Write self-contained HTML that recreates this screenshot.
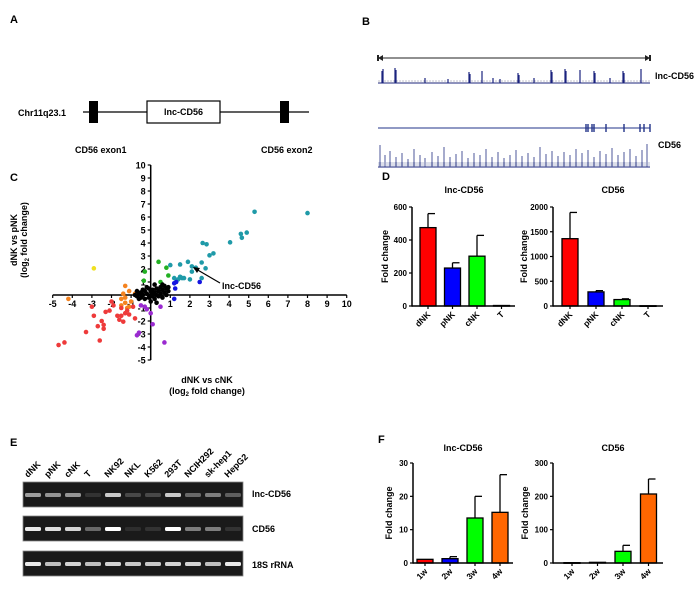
<!DOCTYPE html>
<html><head><meta charset="utf-8"><style>
html,body{margin:0;padding:0;background:#fff}
svg{display:block;font-family:"Liberation Sans",Arial,sans-serif}
text{font-weight:bold}
</style></head><body>
<svg id="fig" width="700" height="590" viewBox="0 0 700 590" xmlns="http://www.w3.org/2000/svg">
<g>
<text x="10" y="23" font-size="11">A</text>
<text x="18" y="116" font-size="9">Chr11q23.1</text>
<line x1="83" y1="112" x2="309" y2="112" stroke="#000" stroke-width="1.3"/>
<rect x="89" y="101" width="9" height="22" fill="#000"/>
<rect x="147" y="101" width="73" height="22" fill="#fff" stroke="#000" stroke-width="1.2"/>
<text x="183.5" y="115" font-size="9" text-anchor="middle" font-weight="normal">lnc-CD56</text>
<rect x="280" y="101" width="9" height="22" fill="#000"/>
<text x="75" y="153" font-size="9">CD56 exon1</text>
<text x="261" y="153" font-size="9">CD56 exon2</text>
</g>
<g id="panelB">
<text x="362" y="25" font-size="11">B</text>
<line x1="380" y1="58" x2="648" y2="58" stroke="#222" stroke-width="1"/>
<path d="M378 58 L383 55 L383 61Z M650 58 L645 55 L645 61Z" fill="#222"/>
<rect x="377" y="55" width="2" height="6" fill="#222"/><rect x="649" y="55" width="2" height="6" fill="#222"/>
<line x1="378" y1="128" x2="650" y2="128" stroke="#223388" stroke-width="1"/>
<text x="655" y="79" font-size="9">lnc-CD56</text>
<text x="658" y="148" font-size="9">CD56</text>
</g>
<g id="panelC">
<text x="10" y="181" font-size="11">C</text>
<text x="207" y="383" font-size="9" text-anchor="middle">dNK vs cNK</text>
<text x="207" y="394" font-size="9" text-anchor="middle">(log<tspan font-size="6" dy="2">2</tspan><tspan dy="-2"> fold change)</tspan></text>
<text transform="translate(17,240) rotate(-90)" font-size="9" text-anchor="middle">dNK vs pNK</text>
<text transform="translate(27,240) rotate(-90)" font-size="9" text-anchor="middle">(log<tspan font-size="6" dy="2">2</tspan><tspan dy="-2"> fold change)</tspan></text>
</g>
<g id="panelD">
<text x="382" y="180" font-size="11">D</text>
</g>
<g id="panelE">
<text x="10" y="446" font-size="11">E</text>
<text x="252" y="497" font-size="9">lnc-CD56</text>
<text x="252" y="532" font-size="9">CD56</text>
<text x="252" y="568" font-size="9">18S rRNA</text>
</g>
<g id="panelF">
<text x="378" y="443" font-size="11">F</text>
</g>
</svg>
<script>
const NS='http://www.w3.org/2000/svg';
function mk(parent,tag,attrs,txt){const e=document.createElementNS(NS,tag);for(const k in attrs)e.setAttribute(k,attrs[k]);if(txt!==undefined)e.textContent=txt;parent.appendChild(e);return e;}

const lncPeakPos=[382,383,395,396,425,448,469,470,482,493,500,518,519,534,551,552,565,566,580,594,595,610,623,624,641];
const lncPeakH=[12,14,15,13,5,4,11,9,12,5,4,10,8,5,13,11,14,12,13,12,10,5,12,10,14];
const cdPeakPos=[380,385,390,396,402,408,414,420,425,432,438,444,450,456,462,468,474,480,486,492,498,504,510,516,522,528,534,540,546,552,558,564,570,576,582,588,594,600,606,612,618,624,630,636,642,647];
const cdPeakH=[22,12,16,10,14,8,18,12,9,15,11,20,10,13,16,9,14,12,18,10,15,9,12,17,11,14,10,20,13,16,11,15,12,18,14,17,10,16,13,19,12,15,18,11,17,23];
const exonPos=[586,588,592,594,606,624,640,644,650];
(function(){
 const g=document.getElementById('panelB');
 const t1=mk(g,'g',{});
 
 
 mk(t1,'line',{x1:378,y1:83,x2:650,y2:83,stroke:'#1a237e','stroke-width':1});
 for(let x=379;x<650;x+=3) mk(t1,'line',{x1:x,y1:83,x2:x,y2:80,stroke:'#99a','stroke-width':0.6});
 lncPeakPos.forEach((x,i)=>mk(t1,'line',{x1:x,y1:83,x2:x,y2:83-lncPeakH[i],stroke:'#1a237e','stroke-width':1.2}));
 const t2=mk(g,'g',{});
 
 
 mk(t2,'line',{x1:378,y1:167,x2:650,y2:167,stroke:'#1a237e','stroke-width':1});
 for(let x=379;x<650;x+=2) mk(t2,'line',{x1:x,y1:167,x2:x,y2:162,stroke:'#8890b8','stroke-width':0.6});
 cdPeakPos.forEach((x,i)=>mk(t2,'line',{x1:x,y1:167,x2:x,y2:167-cdPeakH[i],stroke:'#3a4590','stroke-width':0.9}));
 exonPos.forEach(x=>mk(g,'rect',{x:x-0.7,y:124,width:1.4,height:8,fill:'#223388'}));
})();

const teal=[[8,6.3],[5.3,6.4],[4.9,4.8],[4.6,4.7],[4.65,4.4],[4.05,4.05],[2.65,4],[2.85,3.9],[3.2,3.2],[3.0,3.05],[1.9,2.55],[1.5,2.35],[2.6,2.5],[2.1,2.2],[2.3,2.1],[2.8,2.05],[2.1,1.8],[1.0,2.3],[2.0,1.2],[1.5,1.4],[1.6,1.3],[1.2,1.3],[1.4,1.2],[2.6,1.3],[1.7,1.3]];
const blue=[[2.5,1.0],[1.3,1.0],[1.2,0.9],[1.25,0.5],[1.2,-0.3]];
const green=[[0.4,2.55],[0.8,2.1],[-0.3,1.8],[0.9,1.5],[-0.35,1.1],[0.5,1.0]];
const yellow=[[-2.9,2.05]];
const orange=[[-4.2,-0.3],[-1.3,0.7],[-1.4,0.1],[-1.1,0.3],[-1.3,-0.2],[-1.5,-0.3],[-1.0,-0.5],[-1.3,-0.6],[-1.2,-1.0],[-0.8,0.1],[-1.5,-0.8],[-1.1,-0.9]];
const red=[[-4.7,-3.85],[-4.4,-3.65],[-3.3,-2.85],[-2.6,-3.5],[-2.4,-2.6],[-2.4,-2.3],[-2.7,-2.4],[-2.5,-2.0],[-2.9,-1.6],[-3.0,-0.9],[-2.3,-1.3],[-2.1,-1.2],[-1.7,-1.6],[-1.6,-1.9],[-1.4,-2.05],[-1.5,-1.6],[-1.3,-1.4],[-1.1,-1.5],[-1.5,-1.0],[-1.9,-0.8],[-0.8,-1.8],[-0.9,-0.9],[-2.0,-0.5],[-1.2,-1.2]];
const purple=[[0.7,-3.65],[-0.6,-2.9],[-0.7,-3.1],[0.1,-2.25],[0.0,-1.4],[-0.2,-1.1],[-0.3,-0.9],[0.5,-0.9],[-0.5,-0.8]];
const black=[[-0.8,0],[-0.7,-0.1],[-0.6,0.1],[-0.5,-0.2],[-0.5,0.2],[-0.4,0],[-0.3,-0.3],[-0.3,0.3],[-0.2,0.1],[-0.1,-0.2],[-0.1,0.5],[0,0],[0,0.3],[0.1,-0.1],[0.1,0.4],[0.2,0.2],[0.2,-0.3],[0.3,0],[0.3,0.5],[0.4,0.3],[0.4,-0.1],[0.5,0.1],[0.5,0.6],[0.6,0.4],[0.6,-0.2],[0.7,0.2],[0.7,0.7],[0.8,0.5],[0.8,0],[0.9,0.3],[-0.6,-0.3],[-0.2,0.6],[0.2,0.8],[0.0,-0.5],[0.3,-0.6],[-0.4,0.4],[0.6,0.8],[0.9,0.6],[-0.7,0.3],[0.15,0.15]];
const cXTicks=[-5,-4,-3,-2,-1,1,2,3,4,5,6,7,8,9,10];
const cYTicks=[-5,-4,-3,-2,-1,1,2,3,4,5,6,7,8,9,10];
(function(){
 const g=document.getElementById('panelC');
 const X=v=>150.7+v*19.6, Y=v=>295-v*13;
 const ax=mk(g,'g',{});
 
 
 mk(ax,'line',{x1:X(-5),y1:Y(0),x2:X(10),y2:Y(0),stroke:'#000','stroke-width':1.5});
 mk(ax,'line',{x1:X(0),y1:Y(-5),x2:X(0),y2:Y(10),stroke:'#000','stroke-width':1.5});
 cXTicks.forEach(v=>{mk(ax,'line',{x1:X(v),y1:Y(0),x2:X(v),y2:Y(0)+3,stroke:'#000','stroke-width':1.2});
  const t=mk(ax,'text',{x:X(v),y:Y(0)+12,'font-size':9,'text-anchor':'middle'},String(v));
  
  });
 cYTicks.forEach(v=>{mk(ax,'line',{x1:X(0)-3,y1:Y(v),x2:X(0),y2:Y(v),stroke:'#000','stroke-width':1.2});
  const t=mk(ax,'text',{x:X(0)-5,y:Y(v)+3.5,'font-size':9,'text-anchor':'end'},String(v));
  
  });
 const series=[[teal,'#1f9aa8','teal'],[blue,'#1515e0','blue'],[green,'#22b022','green'],[yellow,'#f0e020','yellow'],[orange,'#f5831f','orange'],[red,'#ee3a3a','red'],[purple,'#9a2ad0','purple'],[black,'#000','black']];
 series.forEach(([pts,col,nm])=>{pts.forEach(p=>{const c=mk(g,'circle',{cx:X(p[0]),cy:Y(p[1]),r:2.3,fill:col});
  
  });});
 mk(g,'line',{x1:220,y1:283,x2:196,y2:269,stroke:'#000','stroke-width':1.2});
 mk(g,'path',{d:'M193 267 L200 268 L197 273Z',fill:'#000'});
 const a=mk(g,'text',{x:222,y:289,'font-size':9},'lnc-CD56');
 
 
})();

function barChart(g,o){
 const Y=v=>o.y0-(v/o.ymax)*(o.y0-o.ytop);
 const t=mk(g,'text',{x:o.titleX,y:o.titleY,'font-size':9,'text-anchor':'middle'},o.title);
 
 
 const yl=mk(g,'text',{transform:`translate(${o.ylabX},${(o.y0+o.ytop)/2}) rotate(-90)`,'font-size':9,'text-anchor':'middle'},'Fold change');
 
 
 o.cats.forEach((c,i)=>{
  const cx=o.x0+o.first+i*o.step, v=o.vals[i], e=o.errs[i];
  if(e>v){mk(g,'line',{x1:cx,y1:Y(v),x2:cx,y2:Y(e),stroke:'#000','stroke-width':1.3});
   mk(g,'line',{x1:cx,y1:Y(e),x2:cx+7,y2:Y(e),stroke:'#000','stroke-width':1.3});}
  const b=mk(g,'rect',{x:cx-8,y:Y(v),width:16,height:Math.max(o.y0-Y(v),0.6),fill:o.colors[i],stroke:'#000','stroke-width':1.3});
  
  
  mk(g,'line',{x1:cx,y1:o.y0,x2:cx,y2:o.y0+3,stroke:'#000','stroke-width':1.2});
  const xl=mk(g,'text',{transform:`translate(${cx+3},${o.y0+9}) rotate(-45)`,'font-size':8.5,'text-anchor':'end'},c);
  
  
 });
 mk(g,'line',{x1:o.x0,y1:o.y0,x2:o.x1,y2:o.y0,stroke:'#000','stroke-width':1.5});
 mk(g,'line',{x1:o.x0,y1:o.y0+0.7,x2:o.x0,y2:o.ytop,stroke:'#000','stroke-width':1.5});
 o.ticks.forEach(v=>{mk(g,'line',{x1:o.x0-3,y1:Y(v),x2:o.x0,y2:Y(v),stroke:'#000','stroke-width':1.2});
  const tl=mk(g,'text',{x:o.x0-5,y:Y(v)+3,'font-size':8,'text-anchor':'end'},String(v));
  
  });
}
const dCats=['dNK','pNK','cNK','T'];
const dColors=['#ff0000','#0000ff','#00ff00','#ffffff'];
const dLncVals=[475,230,302,3];
const dLncErr=[560,262,428,3];
const dLncTicks=[0,200,400,600];
const dCdVals=[1360,285,130,5];
const dCdErr=[1890,310,145,5];
const dCdTicks=[0,500,1000,1500,2000];
const fCats=['1w','2w','3w','4w'];
const fColors=['#ff0000','#0000ff','#00ff00','#ff6600'];
const fLncVals=[1.1,1.3,13.5,15.2];
const fLncErr=[1.1,1.9,20,26.5];
const fLncTicks=[0,10,20,30];
const fCdVals=[1,2,35,207];
const fCdErr=[1,2,53,252];
const fCdTicks=[0,100,200,300];
(function(){
 const g=document.getElementById('panelD');
 const g1=mk(g,'g',{});  
 barChart(g1,{title:'lnc-CD56',titleX:464,titleY:193,ylabX:388,x0:412,x1:515,y0:306,ytop:207,ymax:600,first:16,step:24.5,cats:dCats,vals:dLncVals,errs:dLncErr,colors:dColors,ticks:dLncTicks});
 const g2=mk(g,'g',{});  
 barChart(g2,{title:'CD56',titleX:613,titleY:193,ylabX:527,x0:553,x1:663,y0:306,ytop:207,ymax:2000,first:17,step:26,cats:dCats,vals:dCdVals,errs:dCdErr,colors:dColors,ticks:dCdTicks});
 const f=document.getElementById('panelF');
 const f1=mk(f,'g',{});  
 barChart(f1,{title:'lnc-CD56',titleX:463,titleY:451,ylabX:392,x0:413,x1:513,y0:563,ytop:463,ymax:30,first:12,step:25,cats:fCats,vals:fLncVals,errs:fLncErr,colors:fColors,ticks:fLncTicks});
 const f2=mk(f,'g',{});  
 barChart(f2,{title:'CD56',titleX:613,titleY:451,ylabX:528,x0:553,x1:663,y0:563,ytop:463,ymax:300,first:19,step:25.5,cats:fCats,vals:fCdVals,errs:fCdErr,colors:fColors,ticks:fCdTicks});
})();

const lanes=['dNK','pNK','cNK','T','NK92','NKL','K562','293T','NCIH292','sk-hep1','HepG2'];
const lncBand=[0.55,0.5,0.5,0.05,0.75,0.15,0.15,0.75,0.3,0.4,0.25];
const cdBand=[0.9,0.85,0.8,0.3,1,0.03,0.05,1,0.4,0.4,0.05];
const rBand=[0.9,0.7,0.8,0.7,0.8,0.75,0.75,0.8,0.8,0.7,0.9];
(function(){
 const g=document.getElementById('panelE');
 const rows=[[lncBand,482,495,'gel-lnc-cd56'],[cdBand,516,529,'gel-cd56'],[rBand,551,564,'gel-18s']];
 rows.forEach(([vals,top,by,nm])=>{
  const r=mk(g,'rect',{x:23,y:top,width:220,height:25,fill:'#1a1a1a',stroke:'#888','stroke-width':0.8});
  
  
  vals.forEach((v,i)=>{const cx=33+i*20;const c=Math.round(40+v*215);
   const b=mk(g,'rect',{x:cx-8,y:by-2,width:16,height:4,rx:1.5,fill:`rgb(${c},${c},${c})`});
   
   });
 });
 lanes.forEach((l,i)=>{const cx=33+i*20;
  const t=mk(g,'text',{transform:`translate(${cx-5},${478}) rotate(-45)`,'font-size':9},l);
  
  });
})();
</script>
</body></html>
